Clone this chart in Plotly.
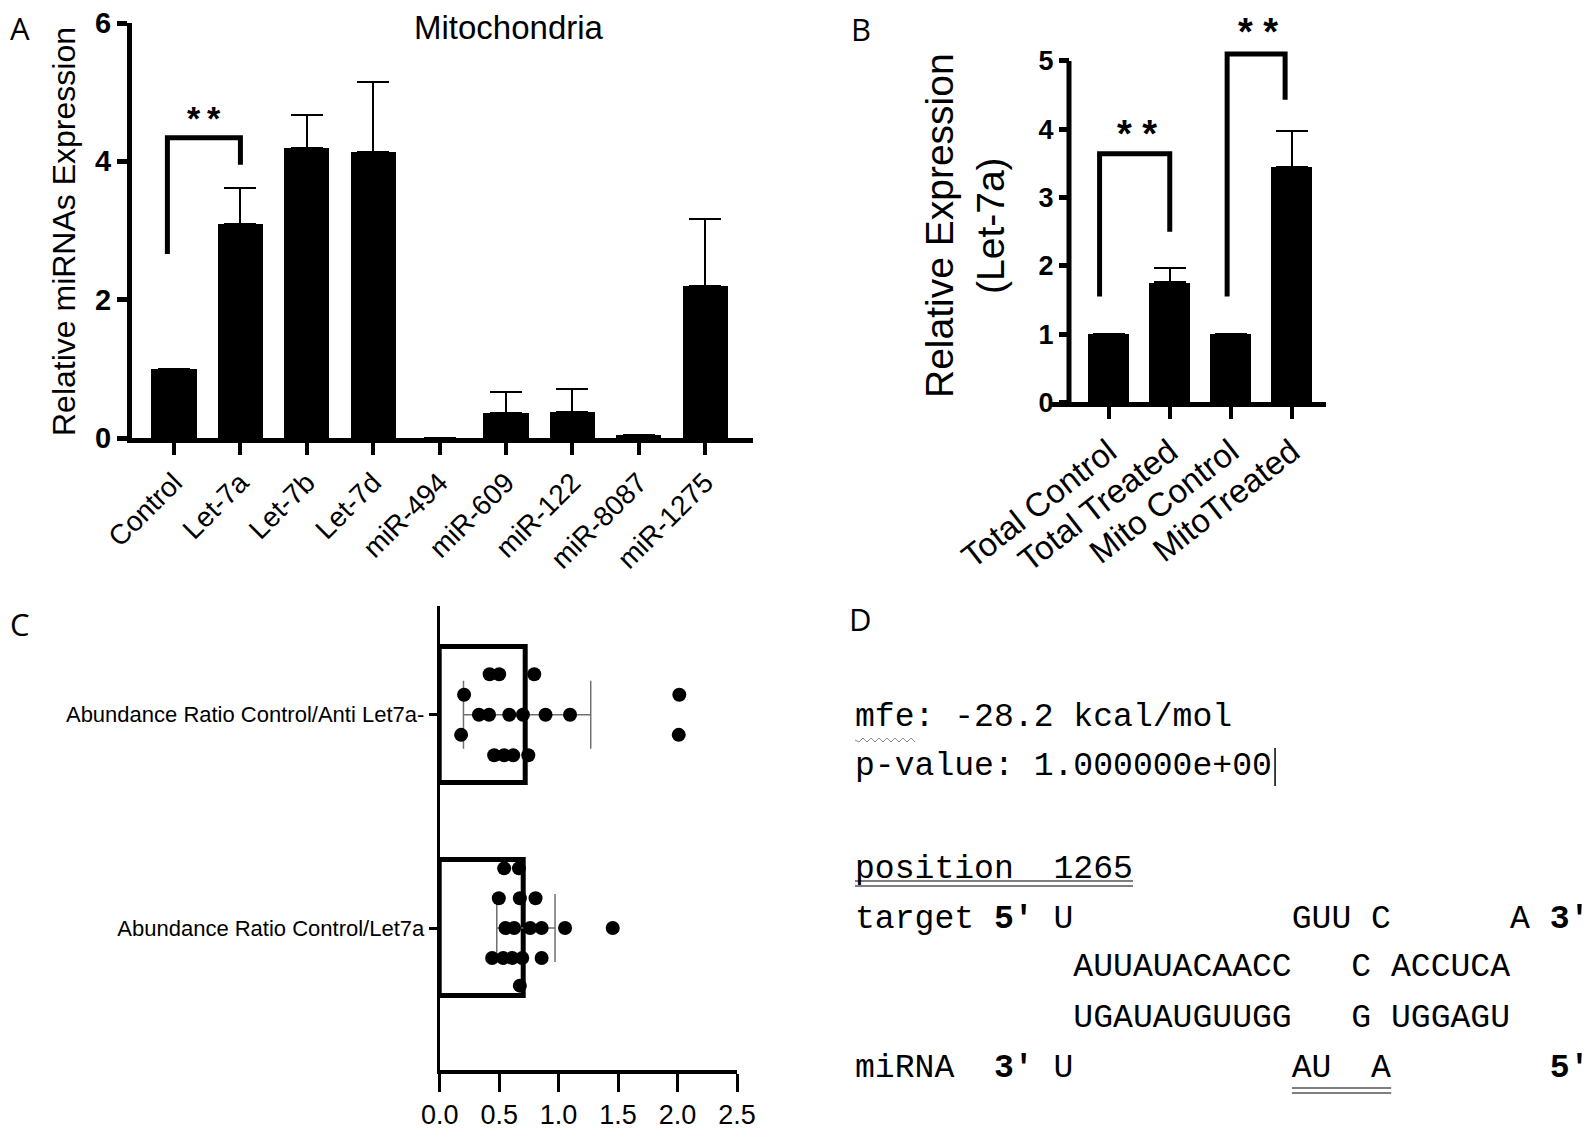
import plotly.graph_objects as go

W, H = 1594, 1141


def px(x):
    return x / W


def py(y):
    return 1 - y / H


SANS = "Liberation Sans, Arial, sans-serif"
MONO = "Liberation Mono, Courier New, monospace"
LABEL = "Open Sans, Noto Sans, sans-serif"

# ---- A: miRNAs in mitochondria
mirnas = ["Control", "Let-7a", "Let-7b", "Let-7d", "miR-494",
          "miR-609", "miR-122", "miR-8087", "miR-1275"]
mirna_expr = [1.0, 3.10, 4.20, 4.14, 0.0, 0.36, 0.37, 0.05, 2.20]
mirna_err = [0.0, 0.52, 0.47, 1.00, 0.0, 0.30, 0.34, 0.0, 0.97]

# ---- B: Let-7a total vs mito
let7a_groups = ["Total Control", "Total Treated", "Mito Control", "MitoTreated"]
let7a_expr = [1.0, 1.76, 1.0, 3.45]
let7a_err = [0.0, 0.21, 0.0, 0.52]

# ---- C: abundance ratios (bottom category first)
ratio_labels = ["Abundance Ratio Control/Let7a", "Abundance Ratio Control/Anti Let7a-"]
ratio_mean = [0.71, 0.72]
ratio_err_plus = [0.26, 0.55]
ratio_err_minus = [0.23, 0.52]
# single values, one list per swarm row (top row first)
let7a_rows = [
    [0.542, 0.666],
    [0.497, 0.674, 0.806],
    [0.553, 0.626, 0.761, 0.857, 1.054, 1.455],
    [0.441, 0.534, 0.610, 0.694, 0.857],
    [0.674],
]
anti_rows = [
    [0.42, 0.50, 0.795],
    [0.205, 2.015],
    [0.33, 0.415, 0.585, 0.70, 0.89, 1.096],
    [0.18, 2.01],
    [0.458, 0.542, 0.618, 0.745],
]
let7a_row_off = [0.28, 0.14, 0.0, -0.14, -0.27]
anti_row_off = [0.19, 0.094, 0.0, -0.094, -0.19]

# ---- D: RNAhybrid result
hybrid_lines = [
    "mfe: -28.2 kcal/mol",
    "p-value: 1.000000e+00",
    "position  1265",
    "target <b>5'</b> U           GUU C      A <b>3'</b>",
    "           AUUAUACAACC   C ACCUCA",
    "           UGAUAUGUUGG   G UGGAGU",
    "miRNA  <b>3'</b> U           AU  A        <b>5'</b>",
]
hybrid_y = [709, 758, 861, 911, 959, 1010, 1060]

fig = go.Figure()

# A bars
fig.add_trace(go.Bar(
    x=list(range(len(mirnas))), y=mirna_expr, width=0.68,
    marker=dict(color="black", line=dict(width=0)),
    error_y=dict(type="data", symmetric=False, array=mirna_err,
                 arrayminus=[0] * len(mirnas), color="black", thickness=2, width=16),
    xaxis="x", yaxis="y", showlegend=False, hoverinfo="skip"))
fig.add_trace(go.Scatter(
    x=[-0.1, -0.1, 1, 1], y=[2.66, 4.34, 4.34, 3.95], mode="lines",
    line=dict(color="black", width=5), xaxis="x", yaxis="y",
    showlegend=False, hoverinfo="skip"))

# B bars
fig.add_trace(go.Bar(
    x=list(range(len(let7a_groups))), y=let7a_expr, width=0.667,
    marker=dict(color="black", line=dict(width=0)),
    error_y=dict(type="data", symmetric=False, array=let7a_err,
                 arrayminus=[0] * len(let7a_groups), color="black", thickness=2, width=16),
    xaxis="x2", yaxis="y2", showlegend=False, hoverinfo="skip"))
for bx, by in [([-0.15, -0.15, 1, 1], [1.55, 3.64, 3.64, 2.5]),
               ([1.94, 1.94, 2.89, 2.89], [1.55, 5.1, 5.1, 4.43])]:
    fig.add_trace(go.Scatter(
        x=bx, y=by, mode="lines", line=dict(color="black", width=5),
        xaxis="x2", yaxis="y2", showlegend=False, hoverinfo="skip"))

# C bars + dots
fig.add_trace(go.Bar(
    x=ratio_mean, y=[0, 1], orientation="h", width=0.64,
    marker=dict(color="white", line=dict(color="black", width=5)),
    error_x=dict(type="data", symmetric=False, array=ratio_err_plus,
                 arrayminus=ratio_err_minus, color="#707070", thickness=1.5, width=34),
    xaxis="x3", yaxis="y3", showlegend=False, hoverinfo="skip"))
dot_x, dot_y = [], []
for base, rows, offs in [(0, let7a_rows, let7a_row_off), (1, anti_rows, anti_row_off)]:
    for row, off in zip(rows, offs):
        dot_x += row
        dot_y += [base + off] * len(row)
fig.add_trace(go.Scatter(
    x=dot_x, y=dot_y, mode="markers", marker=dict(color="black", size=14),
    xaxis="x3", yaxis="y3", showlegend=False, hoverinfo="skip"))

base_ax = dict(showgrid=False, zeroline=False, linecolor="black", tickcolor="black",
               ticks="outside", automargin=False, ticklabeloverflow="allow")

annotations = [
    dict(text="A", x=px(12), y=py(20), font=dict(family=LABEL, size=31)),
    dict(text="B", x=px(853), y=py(21), font=dict(family=LABEL, size=31)),
    dict(text="C", x=px(12), y=py(616), font=dict(family=LABEL, size=31)),
    dict(text="D", x=px(853), y=py(611), font=dict(family=LABEL, size=31)),
    dict(text="Mitochondria", x=px(501), y=py(20), font=dict(family=SANS, size=33)),
    dict(text="Relative miRNAs Expression", x=px(56), y=py(224), textangle=-90,
         font=dict(family=SANS, size=32)),
    dict(text="Relative Expression<br>(Let-7a)", x=px(957), y=py(218), textangle=-90,
         font=dict(family=SANS, size=39)),
]
for a in annotations:
    a.update(xref="paper", yref="paper", showarrow=False, xanchor="center", yanchor="middle")
    a["font"]["color"] = "black"

stars = [("x", "y", 0.45, 4.62, "*\u2009*", 34),
         ("x2", "y2", 0.46, 3.93, "* *", 38),
         ("x2", "y2", 2.45, 5.42, "* *", 38)]
for xr, yr, sx, sy, st, fs in stars:
    annotations.append(dict(text="<b>" + st + "</b>", x=sx, y=sy, xref=xr, yref=yr,
                            showarrow=False, font=dict(family=SANS, size=fs, color="black")))

mono_size = 33.1
cw = mono_size * 0.6  # mono char pitch
x0d = 847
for line, ly in zip(hybrid_lines, hybrid_y):
    annotations.append(dict(text=line.replace(" ", "\u00a0"), x=px(x0d - 2), y=py(ly),
                            xref="paper", yref="paper", xanchor="left", yanchor="middle",
                            showarrow=False, font=dict(family=MONO, size=mono_size, color="black")))

shapes = [
    # B y-axis line (range extended above 5 for the brackets)
    dict(type="line", xref="paper", yref="y2", x0=px(1061), x1=px(1061), y0=0, y1=5,
         line=dict(color="black", width=5)),
    # cursor after p-value
    dict(type="line", xref="paper", yref="paper", x0=px(x0d + 21 * cw + 3), x1=px(x0d + 21 * cw + 3),
         y0=py(740), y1=py(778), line=dict(color="black", width=1.5)),
]
for uy in (873, 878):
    shapes.append(dict(type="line", xref="paper", yref="paper", x0=px(x0d), x1=px(x0d + 14 * cw),
                       y0=py(uy), y1=py(uy), line=dict(color="black", width=1.2)))
for uy in (1080, 1085):
    shapes.append(dict(type="line", xref="paper", yref="paper", x0=px(x0d + 22 * cw),
                       x1=px(x0d + 27 * cw), y0=py(uy), y1=py(uy), line=dict(color="black", width=1.2)))
# wavy spell-check mark under "mfe"
wave = "M {:.5f},{:.5f}".format(px(x0d), py(732))
for i in range(1, 16):
    wave += " L {:.5f},{:.5f}".format(px(x0d + i * 4), py(732 + (2 if i % 2 else -2)))
shapes.append(dict(type="path", xref="paper", yref="paper", path=wave,
                   line=dict(color="#888888", width=1)))

fig.update_layout(
    width=W, height=H, margin=dict(l=0, r=0, t=0, b=0),
    paper_bgcolor="white", plot_bgcolor="white", bargap=0,
    xaxis=dict(base_ax, domain=[px(124), px(745)], range=[-0.633, 8.72], anchor="y",
               tickvals=list(range(len(mirnas))), ticktext=mirnas, tickangle=-45,
               showline=True, linewidth=5, ticklen=12, tickwidth=4,
               tickfont=dict(family=SANS, size=28, color="black")),
    yaxis=dict(base_ax, domain=[py(430), py(15)], range=[0, 6], anchor="x",
               tickvals=[0, 2, 4, 6], showline=True, linewidth=5, ticklen=10, tickwidth=5,
               tickfont=dict(family=SANS, size=29, color="black", weight="bold")),
    xaxis2=dict(base_ax, domain=[px(1043), px(1318)], range=[-0.946, 3.56], anchor="y2",
                tickvals=list(range(len(let7a_groups))), ticktext=let7a_groups, tickangle=-38,
                showline=True, linewidth=5, ticklen=12, tickwidth=4,
                tickfont=dict(family=SANS, size=33, color="black")),
    yaxis2=dict(base_ax, domain=[py(394.4), py(1.7)], range=[0, 5.75], anchor="free",
                position=px(1061), tickvals=[0, 1, 2, 3, 4, 5], showline=False,
                ticklen=10, tickwidth=5,
                tickfont=dict(family=SANS, size=27, color="black", weight="bold")),
    xaxis3=dict(base_ax, domain=[px(431.7), px(729)], range=[0, 2.5], anchor="y3",
                tickvals=[0, 0.5, 1, 1.5, 2, 2.5], tickformat=".1f",
                showline=True, linewidth=4, ticklen=18, tickwidth=3,
                tickfont=dict(family=SANS, size=27, color="black")),
    yaxis3=dict(base_ax, domain=[py(1061.7), py(598)], range=[-0.664, 1.51], anchor="x3",
                tickvals=[0, 1], ticktext=ratio_labels, showline=True, linewidth=3,
                ticklen=8, tickwidth=3,
                tickfont=dict(family=SANS, size=22, color="black")),
    annotations=annotations,
    shapes=shapes,
)

fig.write_html("out.html")
